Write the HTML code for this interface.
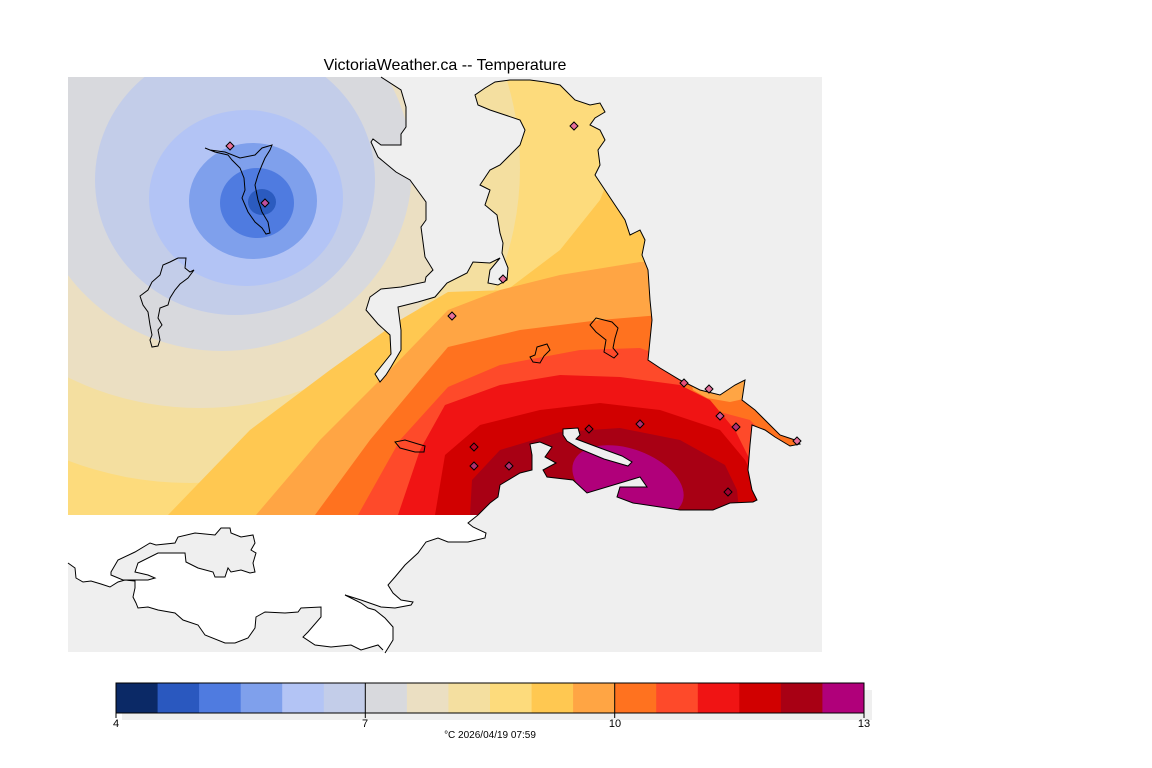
<!DOCTYPE html>
<html><head><meta charset="utf-8"><style>
html,body{margin:0;padding:0;background:#fff;}
svg{display:block;}
text{font-family:"Liberation Sans",sans-serif;}
</style></head><body>
<svg width="1152" height="768" viewBox="0 0 1152 768" xmlns="http://www.w3.org/2000/svg">
<defs>
<clipPath id="land"><polygon points="68,77 381,77 401,90 406,107 406,127 401,134 401,145 381,145 373,139 371,142 378,157 396,172 410,180 426,202 426,220 421,227 425,257 433,270 426,277 425,282 401,287 381,289 370,297 366,310 378,324 390,335 391,354 383,364 375,374 380,382 386,375 391,367 401,350 401,330 398,307 418,302 435,297 447,283 467,273 473,262 490,263 500,258 490,270 488,283 498,285 507,280 508,268 502,253 503,243 500,233 497,215 485,205 490,190 480,185 490,170 500,165 510,155 520,145 525,130 520,120 505,115 490,110 478,105 475,95 485,88 495,82 510,80 530,80 545,82 560,85 575,100 590,105 600,103 605,112 595,118 590,125 600,130 605,140 598,150 600,165 595,175 605,190 615,205 625,220 630,235 640,230 645,240 642,255 648,270 650,300 652,320 650,340 648,360 660,368 680,380 700,390 720,395 735,385 745,380 742,400 755,410 770,425 780,435 795,440 800,444 790,446 775,437 765,430 752,425 750,445 748,470 752,490 757,500 753,502 730,503 713,510 680,510 633,503 617,497 620,487 647,487 640,477 587,493 573,480 547,477 543,470 556,463 545,457 552,447 540,442 530,444 532,455 532,470 520,473 500,485 498,497 490,503 478,515 68,515"/></clipPath>
</defs>
<rect x="68" y="77" width="754" height="575" fill="#efefef"/>
<g clip-path="url(#land)">
<rect x="60" y="70" width="800" height="460" fill="#fddb7c"/>
<ellipse cx="190" cy="168" rx="330" ry="315" fill="#f4dfa0"/>
<ellipse cx="200" cy="168" rx="270" ry="240" fill="#ebdfc2"/>
<ellipse cx="222" cy="168" rx="190" ry="183" fill="#d8d9dd"/>
<ellipse cx="235" cy="180" rx="140" ry="135" fill="#c3cde9"/>
<ellipse cx="246" cy="198" rx="97" ry="88" fill="#b3c4f5"/>
<ellipse cx="253" cy="201" rx="64" ry="58" fill="#7fa0ec"/>
<ellipse cx="257" cy="203" rx="37" ry="35" fill="#4f7be0"/>
<ellipse cx="262" cy="202" rx="14" ry="13" fill="#2b5bbf"/>
<polygon fill="#ffc851" points="168,515 250,430 330,370 400,320 448,292 507,290 560,250 600,200 620,150 605,100 590,80 590,60 900,60 900,700 100,700"/>
<polygon fill="#ffa544" points="256,515 320,440 390,370 448,310 500,290 560,275 640,262 900,250 900,700 200,700"/>
<polygon fill="#ff721f" points="315,515 370,440 420,380 448,347 520,330 600,320 660,315 900,315 900,700 250,700"/>
<polygon fill="#fe4a2a" points="358,515 400,440 448,387 500,365 580,350 640,348 673,360 900,360 900,700 300,700"/>
<polygon fill="#ff721f" points="685,370 700,368 745,375 760,390 775,410 790,430 810,450 800,470 770,440 750,420 720,412 700,405 685,390"/>
<polygon fill="#ffa544" points="690,375 745,378 748,398 730,402 707,398 693,390"/>
<polygon fill="#f01414" points="398,515 420,450 445,405 500,385 560,375 620,377 680,385 710,400 735,430 750,460 760,500 760,700 350,700"/>
<polygon fill="#d10000" points="435,515 445,455 480,425 540,410 600,403 660,410 720,430 745,460 760,490 770,700 400,700"/>
<polygon fill="#a80014" points="470,515 472,480 500,450 560,432 620,428 680,440 725,465 737,490 740,520 700,700 450,700"/>
<ellipse cx="628" cy="482" rx="58" ry="33" transform="rotate(20 628 482)" fill="#b0007a"/>
</g>
<polygon fill="#efefef" stroke="#000" stroke-width="1" points="563,429 578,428 580,435 576,439 600,448 622,456 632,462 628,466 604,459 580,449 567,441 563,435"/>
<polyline fill="none" stroke="#000" stroke-width="1" points="381,77 401,90 406,107 406,127 401,134 401,145 381,145 373,139 371,142 378,157 396,172 410,180 426,202 426,220 421,227 425,257 433,270 426,277 425,282 401,287 381,289 370,297 366,310 378,324 390,335 391,354 383,364 375,374 380,382 386,375 391,367 401,350 401,330 398,307 418,302 435,297 447,283 467,273 473,262 490,263 500,258 490,270 488,283 498,285 507,280 508,268 502,253 503,243 500,233 497,215 485,205 490,190 480,185 490,170 500,165 510,155 520,145 525,130 520,120 505,115 490,110 478,105 475,95 485,88 495,82 510,80 530,80 545,82 560,85 575,100 590,105 600,103 605,112 595,118 590,125 600,130 605,140 598,150 600,165 595,175 605,190 615,205 625,220 630,235 640,230 645,240 642,255 648,270 650,300 652,320 650,340 648,360 660,368 680,380 700,390 720,395 735,385 745,380 742,400 755,410 770,425 780,435 795,440 800,444 790,446 775,437 765,430 752,425 750,445 748,470 752,490 757,500 753,502 730,503 713,510 680,510 633,503 617,497 620,487 647,487 640,477 587,493 573,480 547,477 543,470 556,463 545,457 552,447 540,442 530,444 532,455 532,470 520,473 500,485 498,497 490,503 478,515"/>
<!-- lower land -->
<polygon fill="#fff" stroke="none" points="68,515 478,515 468,523 473,527 486,533 485,538 468,542 448,542 438,538 426,542 418,553 405,565 395,577 388,585 393,593 401,600 413,602 411,605 395,608 381,607 361,600 345,595 361,603 368,608 375,610 385,618 393,627 393,640 385,653 383,650 378,645 361,650 351,645 331,647 315,645 303,637 308,632 321,617 321,607 301,608 298,612 285,613 265,612 256,617 255,628 248,638 235,643 225,643 205,635 198,625 183,620 175,613 158,610 148,607 138,608 136,603 133,597 135,588 135,581 125,580 118,582 110,587 101,584 91,581 83,582 76,578 75,568 68,563"/>
<polyline fill="none" stroke="#000" stroke-width="1" points="478,515 468,523 473,527 486,533 485,538 468,542 448,542 438,538 426,542 418,553 405,565 395,577 388,585 393,593 401,600 413,602 411,605 395,608 381,607 361,600 345,595 361,603 368,608 375,610 385,618 393,627 393,640 385,653"/>
<polyline fill="none" stroke="#000" stroke-width="1" points="383,650 378,645 361,650 351,645 331,647 315,645 303,637 308,632 321,617 321,607 301,608 298,612 285,613 265,612 256,617 255,628 248,638 235,643 225,643 205,635 198,625 183,620 175,613 158,610 148,607 138,608 136,603 133,597 135,588 135,581 125,580 118,582 110,587 101,584 91,581 83,582 76,578 75,568 68,563"/>
<polygon fill="#efefef" stroke="#000" stroke-width="1" points="111,572 118,560 135,552 150,543 156,545 175,543 178,537 195,533 215,535 221,528 230,528 231,533 241,537 253,535 255,543 251,550 256,553 253,563 255,572 250,573 241,570 231,572 228,568 225,577 215,577 213,572 198,568 186,562 185,553 175,553 158,553 138,563 135,572 148,575 155,578 148,580 123,580 111,575"/>
<!-- lakes / islands outlines -->
<polyline fill="none" stroke="#000" points="205,148 215,152 228,155 232,160 240,168 244,178 245,190 242,198 248,212 255,222 262,228 266,234 270,233 268,222 262,212 258,200 255,185 258,175 262,165 265,158 270,150 272,145 262,148 255,155 240,158 225,152 210,150"/>
<polyline fill="none" stroke="#000" points="178,258 186,258 185,268 190,272 194,270 188,278 180,284 175,290 170,298 168,305 160,308 158,318 162,325 158,330 160,340 158,346 152,347 150,340 152,335 150,325 148,312 143,305 140,296 148,290 152,282 160,275 163,265 170,262 178,258"/>
<polygon fill="none" stroke="#000" points="596,318 612,322 618,328 615,338 613,348 618,354 614,358 604,352 606,340 596,332 590,325"/>
<polygon fill="none" stroke="#000" points="537,347 547,344 550,350 544,356 540,363 533,362 530,357 535,355"/>
<polygon fill="none" stroke="#000" points="395,442 405,440 418,444 425,446 424,452 415,452 400,448"/>
<!-- stations -->
<g stroke="#000" stroke-width="1" fill="#e8709a">
<polygon points="230,142 234,146 230,150 226,146"/>
<polygon points="265,199 269,203 265,207 261,203" fill="#c050a0"/>
<polygon points="574,122 578,126 574,130 570,126"/>
<polygon points="503,275 507,279 503,283 499,279"/>
<polygon points="452,312 456,316 452,320 448,316"/>
<polygon points="684,379 688,383 684,387 680,383" fill="#e8507a"/>
<polygon points="709,385 713,389 709,393 705,389"/>
<polygon points="720,412 724,416 720,420 716,416" fill="#d05090"/>
<polygon points="736,423 740,427 736,431 732,427" fill="#b03070"/>
<polygon points="640,420 644,424 640,428 636,424" fill="#b03070"/>
<polygon points="589,425 593,429 589,433 585,429" fill="#c00020"/>
<polygon points="474,443 478,447 474,451 470,447" fill="#c00020"/>
<polygon points="474,462 478,466 474,470 470,466" fill="#b03070"/>
<polygon points="509,462 513,466 509,470 505,466" fill="#b03070"/>
<polygon points="728,488 732,492 728,496 724,492" fill="#a00030"/>
<polygon points="797,437 801,441 797,445 793,441"/>
</g>
<text x="445" y="70" font-size="16" text-anchor="middle" fill="#000">VictoriaWeather.ca -- Temperature</text>
<!-- colorbar -->
<rect x="122" y="690" width="750" height="30" fill="#efefef"/>
<g stroke="none">
<rect x="116" y="683" width="42" height="30" fill="#0b2966"/>
<rect x="157.6" y="683" width="42" height="30" fill="#2a58bf"/>
<rect x="199.1" y="683" width="42" height="30" fill="#4f7be0"/>
<rect x="240.7" y="683" width="42" height="30" fill="#7fa0ec"/>
<rect x="282.2" y="683" width="42" height="30" fill="#b3c4f5"/>
<rect x="323.8" y="683" width="42" height="30" fill="#c3cde9"/>
<rect x="365.3" y="683" width="42" height="30" fill="#d8d9dd"/>
<rect x="406.9" y="683" width="42" height="30" fill="#ebdfc2"/>
<rect x="448.4" y="683" width="42" height="30" fill="#f4dfa0"/>
<rect x="490" y="683" width="42" height="30" fill="#fddb7c"/>
<rect x="531.6" y="683" width="42" height="30" fill="#ffc851"/>
<rect x="573.1" y="683" width="42" height="30" fill="#ffa544"/>
<rect x="614.7" y="683" width="42" height="30" fill="#ff721f"/>
<rect x="656.2" y="683" width="42" height="30" fill="#fe4a2a"/>
<rect x="697.8" y="683" width="42" height="30" fill="#f01414"/>
<rect x="739.3" y="683" width="42" height="30" fill="#d10000"/>
<rect x="780.9" y="683" width="42" height="30" fill="#a80014"/>
<rect x="822.4" y="683" width="41.6" height="30" fill="#b0007a"/>
</g>
<rect x="116" y="683" width="748" height="30" fill="none" stroke="#000" stroke-width="1"/>
<line x1="365.3" y1="683" x2="365.3" y2="718" stroke="#000"/>
<line x1="614.7" y1="683" x2="614.7" y2="718" stroke="#000"/>
<line x1="116" y1="713" x2="116" y2="718" stroke="#000"/>
<line x1="864" y1="713" x2="864" y2="718" stroke="#000"/>
<g font-size="11" fill="#000" text-anchor="middle">
<text x="116" y="727">4</text>
<text x="365" y="727">7</text>
<text x="615" y="727">10</text>
<text x="864" y="727">13</text>
<text x="490" y="738" font-size="10">°C  2026/04/19 07:59</text>
</g>
</svg>
</body></html>
